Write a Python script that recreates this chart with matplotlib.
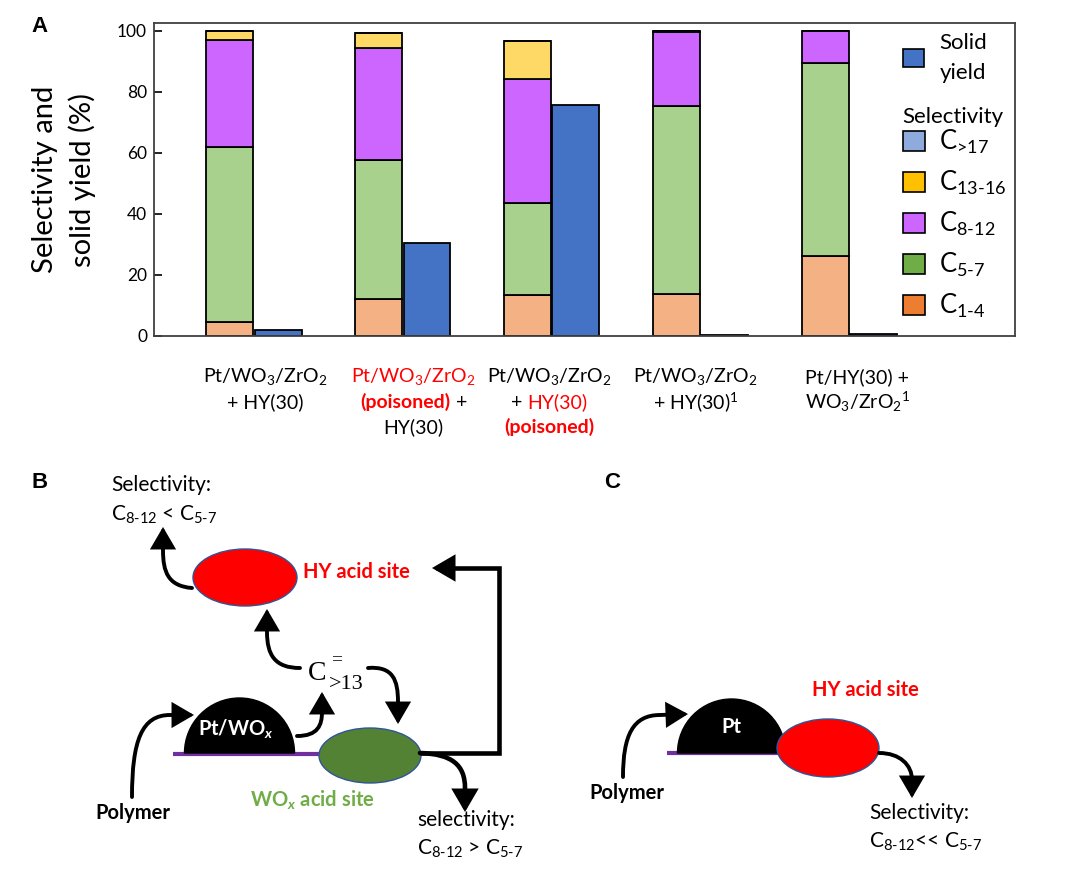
import numpy as np
import matplotlib
matplotlib.use('Agg')
import matplotlib.pyplot as plt
from matplotlib.patches import Patch, Ellipse, Wedge, FancyArrowPatch
from matplotlib.path import Path
from matplotlib.offsetbox import TextArea, HPacker, AnnotationBbox

plt.rcParams['font.family'] = ['Lato', 'DejaVu Sans']
plt.rcParams['mathtext.fontset'] = 'custom'
plt.rcParams['mathtext.rm'] = 'Lato'
plt.rcParams['mathtext.it'] = 'Lato:italic:bold'
plt.rcParams['mathtext.bf'] = 'Lato:bold'

# data
catalysts = ['Pt/WO3/ZrO2 + HY(30)', 'Pt/WO3/ZrO2 (poisoned) + HY(30)',
             'Pt/WO3/ZrO2 + HY(30) (poisoned)', 'Pt/WO3/ZrO2 + HY(30)1',
             'Pt/HY(30) + WO3/ZrO21']
c1_4 = [4.6, 12.0, 13.3, 13.7, 26.2]
c5_7 = [57.3, 45.6, 30.4, 61.6, 63.1]
c8_12 = [35.1, 36.7, 40.5, 24.4, 10.6]
c13_16 = [2.8, 5.0, 12.3, 0.3, 0.0]
c17 = [0.0, 0.0, 0.0, 0.0, 0.0]
solid_yield = [1.9, 30.3, 75.6, 0.4, 0.7]

RED = '#FF0000'
# x tick labels: lines of (text, colour, weight)
label_lines = [
    [[('Pt/WO$_3$/ZrO$_2$', 'k', 'normal')],
     [('+ HY(30)', 'k', 'normal')]],
    [[('Pt/WO$_3$/ZrO$_2$', RED, 'normal')],
     [('(poisoned)', RED, 'bold'), (' +', 'k', 'normal')],
     [('HY(30)', 'k', 'normal')]],
    [[('Pt/WO$_3$/ZrO$_2$', 'k', 'normal')],
     [('+ ', 'k', 'normal'), ('HY(30)', RED, 'normal')],
     [('(poisoned)', RED, 'bold')]],
    [[('Pt/WO$_3$/ZrO$_2$', 'k', 'normal')],
     [('+ HY(30)$^1$', 'k', 'normal')]],
    [[('Pt/HY(30) +', 'k', 'normal')],
     [('WO$_3$/ZrO$_2$$^1$', 'k', 'normal')]],
]
label_dx = [11, 11, -2, -5, 8]

bar_cols = ['#F4B183', '#A9D18E', '#CC66FF', '#FFD966', '#8FAADC']
leg_cols = ['#ED7D31', '#70AD47', '#CC66FF', '#FFC000', '#8FAADC']
solid_col = '#4472C4'

fig = plt.figure(figsize=(10.78, 8.72), dpi=100)
ax = fig.add_axes([0.1429, 0.6147, 0.7987, 0.3589])

x = np.arange(len(catalysts))
w = 0.315
off = 0.163
bottom = np.zeros(len(x))
for vals, col in zip([c1_4, c5_7, c8_12, c13_16, c17], bar_cols):
    ax.bar(x - off, vals, w, bottom=bottom, color=col, edgecolor='black', linewidth=1.3)
    bottom += np.array(vals)
ax.bar(x + off, solid_yield, w, color=solid_col, edgecolor='black', linewidth=1.3)

ax.set_xlim(-0.670, 5.113)
ax.set_ylim(0, 102.5)
ax.set_xticks([])
ax.set_yticks([0, 20, 40, 60, 80, 100])
ax.tick_params(axis='y', direction='in', length=6, width=1.2, labelsize=12.5, pad=5)
for s in ax.spines.values():
    s.set_color('#404040')
    s.set_linewidth(1.3)
ax.set_ylabel('Selectivity and\nsolid yield (%)', fontsize=21, linespacing=1.45, labelpad=15)

for i, lines in enumerate(label_lines):
    for j, pieces in enumerate(lines):
        kids = [TextArea(t, textprops=dict(color=c, fontweight=fw, fontsize=14))
                for t, c, fw in pieces]
        box = HPacker(children=kids, align='baseline', pad=0, sep=0)
        ab = AnnotationBbox(box, (x[i], 0), xycoords=('data', 'axes fraction'),
                            xybox=(label_dx[i], -41 - 25 * j), boxcoords='offset pixels',
                            frameon=False, box_alignment=(0.5, 0.5), annotation_clip=False)
        ax.add_artist(ab)

h1 = [Patch(facecolor=solid_col, edgecolor='black', linewidth=1.2)]
leg1 = ax.legend(h1, ['Solid\nyield'], loc='upper left', bbox_to_anchor=(0.870, 0.968),
                 frameon=False, fontsize=16, borderpad=0, borderaxespad=0,
                 handlelength=0.95, handleheight=0.9, handletextpad=0.7)
leg1.get_texts()[0].set_linespacing(1.6)
ax.add_artist(leg1)
ax.text(0.869, 0.70, 'Selectivity', transform=ax.transAxes, fontsize=16, va='center')
names = [r'C$_{\text{>17}}$', r'C$_{\text{13-16}}$', r'C$_{\text{8-12}}$',
         r'C$_{\text{5-7}}$', r'C$_{\text{1-4}}$']
h2 = [Patch(facecolor=c, edgecolor='black', linewidth=1.2) for c in leg_cols[::-1]]
leg2 = ax.legend(h2, names, loc='upper left', bbox_to_anchor=(0.870, 0.665),
                 frameon=False, fontsize=18.5, borderpad=0, borderaxespad=0,
                 handlelength=0.85, handleheight=0.8, handletextpad=0.55, labelspacing=0.5)

# schematic panels, drawn in pixel coordinates
sk = fig.add_axes([0, 0, 1, 1])
sk.set_xlim(0, 1078)
sk.set_ylim(872, 0)
sk.axis('off')
sk.patch.set_alpha(0)

panel_font = dict(fontsize=16, fontweight='bold', family='Liberation Sans', ha='center', va='center')
sk.text(40, 26, 'A', **panel_font)
sk.text(40, 482, 'B', **panel_font)
sk.text(612, 482, 'C', **panel_font)


def arrow(pts, codes, lw=2.8):
    p = Path(pts, codes)
    a = FancyArrowPatch(path=p, arrowstyle='-|>,head_length=0.6,head_width=0.35',
                        mutation_scale=20, color='black', linewidth=lw, joinstyle='miter')
    sk.add_patch(a)


M, C4, L = Path.MOVETO, Path.CURVE4, Path.LINETO
curve = [M, C4, C4, C4, L]

# panel B
sk.plot([173, 330], [754, 754], color='#7030A0', lw=3, solid_capstyle='butt', zorder=0.5)
sk.add_patch(Wedge((239.5, 753), 55, 180, 360, color='black'))
sk.text(236, 729, 'Pt/WO$_x$', color='white', fontsize=14.5, fontweight='bold', ha='center', va='center')
sk.add_patch(Ellipse((370, 755.5), 102, 55, facecolor='#548235', edgecolor='#2F5597', lw=1))
sk.add_patch(Ellipse((245, 577.5), 104, 57, facecolor=RED, edgecolor='#2F5597', lw=1))
sk.text(303, 572, 'HY acid site', color=RED, fontsize=14.5, fontweight='bold', va='center')
sk.text(312, 800, 'WO$_x$ acid site', color='#70AD47', fontsize=14.5, fontweight='bold', ha='center', va='center')
sk.text(133, 813, 'Polymer', color='black', fontsize=14.5, fontweight='bold', ha='center', va='center')
sk.text(111, 485, 'Selectivity:', fontsize=15, va='center')
sk.text(111, 515, r'C$_{\text{8-12}}$ < C$_{\text{5-7}}$', fontsize=15, va='center')
sk.text(417, 820, 'selectivity:', fontsize=15, va='center')
sk.text(417, 849, r'C$_{\text{8-12}}$ > C$_{\text{5-7}}$', fontsize=15, va='center')
sk.text(308, 673, 'C', family='Liberation Serif', fontsize=20, va='center')
sk.text(331, 660, '=', family='Liberation Serif', fontsize=14, va='center')
sk.text(329, 684, '>13', family='Liberation Serif', fontsize=16, va='center')

arrow([(192, 588), (168, 586), (163, 572), (163, 550), (163, 527)], curve)
arrow([(421, 753), (499, 753), (499, 568), (432, 568)], [M, L, L, L], lw=3.3)
arrow([(420, 753), (452, 754), (465, 765), (465, 788), (465, 812)], curve, lw=3.3)
arrow([(300, 668), (275, 668), (267, 655), (267, 632), (267, 609)], curve)
arrow([(368, 668), (393, 666), (398, 680), (398, 702), (398, 724)], curve)
arrow([(297, 736), (318, 736), (322, 725), (322, 712), (322, 692)], curve)
arrow([(132, 797), (132, 740), (142, 715), (170, 715), (194, 715)], curve)

# panel C
sk.plot([667, 790], [753, 753], color='#7030A0', lw=3, solid_capstyle='butt', zorder=0.5)
sk.add_patch(Wedge((731.5, 753), 54, 180, 360, color='black'))
sk.text(731, 727, 'Pt', color='white', fontsize=14.5, fontweight='bold', ha='center', va='center')
sk.add_patch(Ellipse((828, 748), 102, 58, facecolor=RED, edgecolor='#2F5597', lw=1))
sk.text(812, 690, 'HY acid site', color=RED, fontsize=14.5, fontweight='bold', va='center')
sk.text(627, 793, 'Polymer', color='black', fontsize=14.5, fontweight='bold', ha='center', va='center')
sk.text(869, 813, 'Selectivity:', fontsize=15, va='center')
sk.text(869, 842, r'C$_{\text{8-12}}$<< C$_{\text{5-7}}$', fontsize=15, va='center')
arrow([(623, 777), (623, 735), (633, 715), (660, 715), (688, 714)], curve)
arrow([(879, 753), (900, 753), (912, 765), (912, 780), (912, 798)], curve)

fig.savefig('out.png', dpi=100)
